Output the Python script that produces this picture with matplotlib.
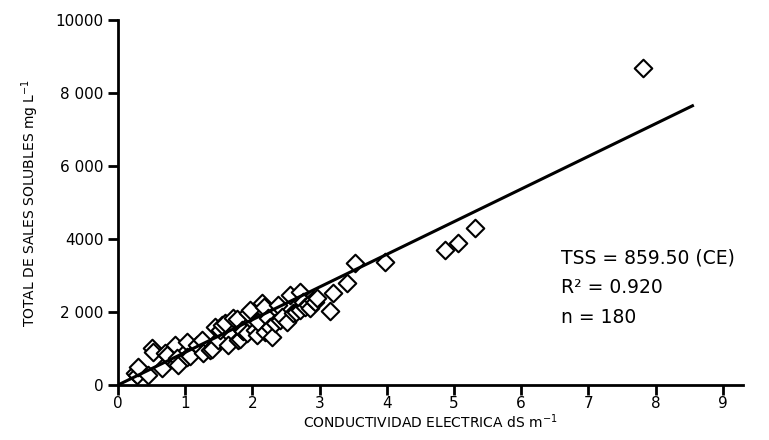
import matplotlib.pyplot as plt

# conductividad electrica (dS/m) vs total de sales solubles (mg/L)
ce = [0.25, 0.28, 0.30, 0.45, 0.51, 0.52, 0.65, 0.70, 0.73, 0.85,
      0.88, 0.89, 1.03, 1.03, 1.07, 1.18, 1.25, 1.27, 1.37, 1.40,
      1.44, 1.49, 1.52, 1.55, 1.59, 1.64, 1.71, 1.77, 1.79, 1.82,
      1.85, 1.86, 1.92, 1.93, 1.96, 2.04, 2.07, 2.08, 2.14, 2.17,
      2.19, 2.23, 2.26, 2.29, 2.34, 2.38, 2.41, 2.44, 2.51, 2.56,
      2.60, 2.65, 2.71, 2.71, 2.75, 2.78, 2.83, 2.86, 2.90, 2.93,
      2.96, 3.15, 3.20, 3.41, 3.53, 3.97, 4.87, 5.06, 5.31, 7.81]
tss = [330, 270, 490, 270, 1010, 900, 470, 870, 820, 1100,
       740, 550, 1180, 770, 800, 1100, 1230, 870, 960, 1000,
       1590, 1230, 1510, 1640, 1700, 1100, 1840, 1800, 1230, 1260,
       1510, 1480, 1420, 1970, 2050, 1510, 1380, 1730, 2250, 2150,
       1450, 1840, 1590, 1320, 1700, 2190, 1780, 1860, 1730, 2470,
       1970, 2000, 2550, 2050, 2270, 2140, 2200, 2110, 2330, 2270,
       2380, 2020, 2520, 2800, 3340, 3370, 3700, 3890, 4300, 8685]

# regression line endpoints as drawn
line_x = [0, 8.55]
line_y = [0, 7650]

yticks = [0, 2000, 4000, 6000, 8000, 10000]
ylabels = ['0', '2 000', '4000', '6 000', '8 000', '10000']
xticks = list(range(10))

fig = plt.figure(figsize=(7.69, 4.40), dpi=100)
ax = fig.add_axes([0.1534, 0.125, 0.8126, 0.8295])

ax.scatter(ce, tss, marker='D', s=80, facecolors='white', edgecolors='black',
           linewidths=1.5, zorder=3)
ax.plot(line_x, line_y, color='black', lw=2.2, zorder=4)

ax.set_xlim(0, 9.3)
ax.set_ylim(0, 10000)
ax.set_xticks(xticks)
ax.set_xticklabels([str(t) for t in xticks], fontsize=11)
ax.set_yticks(yticks)
ax.set_yticklabels(ylabels, fontsize=11)

for s in ['top', 'right']:
    ax.spines[s].set_visible(False)
for s in ['left', 'bottom']:
    ax.spines[s].set_linewidth(2)
ax.tick_params(axis='both', direction='out', width=2, length=7, color='black')
ax.tick_params(axis='x', pad=1)

ax.set_xlabel('CONDUCTIVIDAD ELECTRICA dS m$^{-1}$', fontsize=10, labelpad=1)
ax.set_ylabel('TOTAL DE SALES SOLUBLES mg L$^{-1}$', fontsize=10, labelpad=10)

ax.text(6.6, 3480, 'TSS = 859.50 (CE)', fontsize=13.5, va='center')
ax.text(6.6, 2660, 'R² = 0.920', fontsize=13.5, va='center')
ax.text(6.6, 1840, 'n = 180', fontsize=13.5, va='center')

fig.savefig('out.png', dpi=100)
